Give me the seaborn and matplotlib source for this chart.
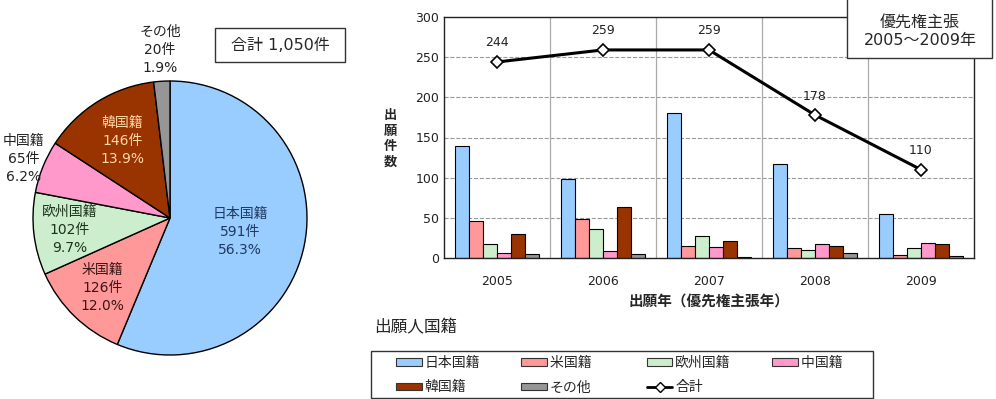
import numpy as np
import pandas as pd
import seaborn as sns
import matplotlib.pyplot as plt
from matplotlib.patches import Patch, Rectangle
from matplotlib.lines import Line2D

# Data
nationalities = ['日本国籍', '米国籍', '欧州国籍', '中国籍', '韓国籍', 'その他']
pie_counts = [591, 126, 102, 65, 146, 20]
pie_pct = ['56.3%', '12.0%', '9.7%', '6.2%', '13.9%', '1.9%']

years = ['2005', '2006', '2007', '2008', '2009']
japan = [140, 98, 181, 117, 55]
usa = [46, 48, 15, 13, 4]
europe = [17, 36, 27, 10, 12]
china = [6, 9, 14, 17, 19]
korea = [30, 63, 21, 15, 17]
other = [5, 5, 1, 6, 3]
totals = [244, 259, 259, 178, 110]

colors = ['#99CCFF', '#FF9999', '#CCEECC', '#FF99CC', '#993300', '#969696']
label_colors = ['#1F3A60', '#3A1515', '#1E331E', '#222222', '#FFD9A8', '#222222']
label_dist = [0.52, 0.71, 0.74, 1.15, 0.66, 1.23]

sns.set_style('white')
plt.rcParams['font.family'] = ['DejaVu Sans', 'Noto Sans CJK JP']

W, H = 996, 399
fig = plt.figure(figsize=(W / 100, H / 100), dpi=100)


def px(x0, y0, x1, y1):
    return [x0 / W, 1 - y1 / H, (x1 - x0) / W, (y1 - y0) / H]


def box(x0, y0, x1, y1):
    l, b, w, h = px(x0, y0, x1, y1)
    fig.add_artist(Rectangle((l, b), w, h, transform=fig.transFigure,
                             fc='white', ec='#333333', lw=1, zorder=3))


# Pie
cx, cy, r = 170, 218, 137
pax = fig.add_axes(px(cx - r, cy - r, cx + r, cy + r))
wedges, _ = pax.pie(pie_counts, colors=colors, startangle=90, counterclock=False,
                    wedgeprops=dict(edgecolor='black', linewidth=1))
pax.set_xlim(-1, 1)
pax.set_ylim(-1, 1)
pax.set_aspect('equal')
for w, name, n, p, c, d in zip(wedges, nationalities, pie_counts, pie_pct, label_colors, label_dist):
    ang = np.deg2rad((w.theta1 + w.theta2) / 2)
    pax.text(d * np.cos(ang), d * np.sin(ang), f'{name}\n{n}件\n{p}',
             ha='center', va='center', fontsize=10, color=c, linespacing=1.35,
             clip_on=False)

box(215, 28, 345, 62)
fig.text(280 / W, 1 - 45 / H, '合計 1,050件', ha='center', va='center', fontsize=11.5,
         zorder=4)

# Bars
df = pd.DataFrame({'year': years, '日本国籍': japan, '米国籍': usa, '欧州国籍': europe,
                   '中国籍': china, '韓国籍': korea, 'その他': other})
long = df.melt(id_vars='year', var_name='nat', value_name='count')

ax = fig.add_axes(px(444, 17, 974, 258))
sns.barplot(data=long, x='year', y='count', hue='nat', hue_order=nationalities,
            palette=colors, edgecolor='black', linewidth=0.8, ax=ax, legend=False,
            saturation=1)
ax.plot(range(len(years)), totals, color='black', lw=2.2, marker='D', markersize=6,
        markerfacecolor='white', markeredgecolor='black', markeredgewidth=1.2, zorder=5)
for i, t in enumerate(totals):
    ax.annotate(str(t), (i, t), xytext=(0, 9), textcoords='offset points',
                ha='center', va='bottom', fontsize=9, color='#222222')

ax.set_ylim(0, 300)
ax.set_xlim(-0.5, len(years) - 0.5)
ax.set_yticks(range(0, 301, 50))
for y in range(50, 300, 50):
    ax.axhline(y, color='#999999', lw=0.8, ls='--', zorder=0)
for x in np.arange(0.5, len(years) - 0.5, 1):
    ax.axvline(x, color='#aaaaaa', lw=0.9, zorder=0)
for s in ax.spines.values():
    s.set_color('#222222')
    s.set_linewidth(1)
ax.tick_params(length=0, labelsize=9, colors='#222222')
ax.tick_params(axis='x', pad=12)
ax.set_xlabel('出願年（優先権主張年）', fontsize=10.5, fontweight='bold', labelpad=5)
ax.set_ylabel('')
fig.text(390 / W, 1 - 139 / H, '出\n願\n件\n数', ha='center', va='center',
         fontsize=9.5, fontweight='bold', linespacing=1.27)

box(847, -2, 992, 58)
fig.text(920 / W, 1 - 31 / H, '優先権主張\n2005〜2009年', ha='center', va='center',
         fontsize=11.5, linespacing=1.3, zorder=4)

fig.text(374 / W, 1 - 327 / H, '出願人国籍', ha='left', va='center', fontsize=12)

# Legend (column-major order so rows read left-to-right)
box(371, 351, 873, 398)
handles = [Patch(facecolor=c, edgecolor='#333333', lw=0.8) for c in colors]
line_h = Line2D([], [], color='black', lw=2, marker='D', markersize=5,
                markerfacecolor='white', markeredgecolor='black')
pad_labels = ['日本国籍', '米国籍　', '欧州国籍', '中国籍　', '韓国籍', 'その他']
order = [0, 4, 1, 5, 2, 'tot', 3]
hs, ls = [], []
for o in order:
    if o == 'tot':
        hs.append(line_h)
        ls.append('合計')
    else:
        hs.append(handles[o])
        ls.append(pad_labels[o])
leg = fig.legend(hs, ls, ncol=4, loc='upper left',
                 bbox_to_anchor=(396 / W, 1 - 356 / H),
                 fontsize=10, frameon=False,
                 handlelength=1.85, handleheight=0.5, handletextpad=0.2,
                 labelspacing=0.75, columnspacing=2.98, borderpad=0, borderaxespad=0)
leg.set_zorder(5)

out = 'out.png'
plt.savefig(out, dpi=100)
print(f"Saved {out}")
plt.close()
